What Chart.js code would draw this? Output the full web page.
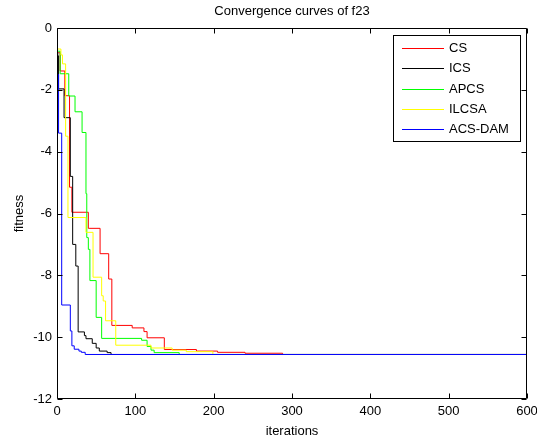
<!DOCTYPE html>
<html><head><meta charset="utf-8">
<script src="https://cdn.jsdelivr.net/npm/chart.js@4/dist/chart.umd.min.js"></script>
<style>html,body{margin:0;padding:0;background:#fff;}#wrap{width:537px;height:441px;}</style>
</head><body><div id="wrap"><canvas id="c" width="537" height="441"></canvas></div>
<script>
const titleText = 'Convergence curves of f23';
const xLabel = 'iterations';
const yLabel = 'fitness';
const xTicks = [0, 100, 200, 300, 400, 500, 600];
const yTicks = [0, -2, -4, -6, -8, -10, -12];
const seriesNames = ['CS', 'ICS', 'APCS', 'ILCSA', 'ACS-DAM'];
const seriesColors = ['#ff0000', '#000000', '#00ff00', '#ffff00', '#0000ff'];

// step breakpoints: iteration where a new best fitness starts, and that fitness
const csIter = [0, 4, 10, 16, 19, 40, 55, 66, 70, 96, 111, 115, 137, 178, 205, 240, 288, 600];
const csFit  = [-0.8, -1.39, -2.19, -5.15, -5.96, -6.48, -7.3, -8.12, -9.62, -9.7, -9.82, -10.02, -10.4, -10.45, -10.49, -10.52, -10.56, -10.56];

const icsIter = [0, 1, 2, 9, 17, 20, 24, 27, 35, 37, 45, 50, 54, 64, 69, 600];
const icsFit  = [-0.8, -0.9, -1.97, -2.9, -4.8, -7.0, -7.7, -9.83, -9.95, -10.05, -10.2, -10.35, -10.45, -10.5, -10.56, -10.56];

const apcsIter = [0, 4, 15, 23, 32, 37, 38, 40, 42, 50, 57, 108, 115, 120, 124, 156, 600];
const apcsFit  = [-0.75, -1.48, -2.2, -2.71, -3.38, -5.36, -6.78, -7.16, -8.17, -9.36, -10.04, -10.1, -10.3, -10.42, -10.5, -10.56, -10.56];

const ilcsaIter = [0, 5, 7, 11, 14, 37, 46, 57, 59, 62, 75, 120, 147, 165, 199, 600];
const ilcsaFit  = [-0.68, -0.87, -1.16, -3.5, -6.13, -6.61, -8.06, -8.66, -8.83, -9.47, -10.26, -10.35, -10.42, -10.47, -10.56, -10.56];

const acsIter = [0, 2, 6, 17, 19, 22, 28, 31, 36, 600];
const acsFit  = [-1.5, -3.4, -8.96, -9.8, -10.28, -10.39, -10.45, -10.49, -10.56, -10.56];

const iterSets = [csIter, icsIter, apcsIter, ilcsaIter, acsIter];
const fitSets = [csFit, icsFit, apcsFit, ilcsaFit, acsFit];

const FONT = "'Liberation Sans', Arial, Helvetica, sans-serif";
Chart.defaults.font.family = FONT;
Chart.defaults.font.size = 13;
Chart.defaults.color = '#000';

const datasets = seriesNames.map((name, i) => ({
  label: name,
  data: iterSets[i].map((it, k) => ({x: it, y: fitSets[i][k]})),
  borderColor: seriesColors[i],
  backgroundColor: seriesColors[i],
  borderWidth: 1,
  pointRadius: 0,
  stepped: 'before',
  fill: false,
  order: seriesNames.length - i
}));

const framePlugin = {
  id: 'frame',
  afterDatasetsDraw(chart) {
    const {ctx, chartArea: a, scales: {x, y}} = chart;
    const L = Math.round(a.left) + 0.5, R = Math.round(a.right) - 0.5;
    const T = Math.round(a.top) + 0.5, B = Math.round(a.bottom) - 0.5;
    ctx.save();
    ctx.strokeStyle = '#000';
    ctx.lineWidth = 1;
    ctx.beginPath();
    ctx.rect(L, T, R - L, B - T);
    const tl = 5;
    xTicks.forEach(v => {
      const px = Math.round(x.getPixelForValue(v)) + 0.5;
      ctx.moveTo(px, B); ctx.lineTo(px, B - tl);
      ctx.moveTo(px, T); ctx.lineTo(px, T + tl);
    });
    yTicks.forEach(v => {
      const py = Math.round(y.getPixelForValue(v)) + 0.5;
      ctx.moveTo(L, py); ctx.lineTo(L + tl, py);
      ctx.moveTo(R, py); ctx.lineTo(R - tl, py);
    });
    ctx.stroke();
    ctx.restore();

    // legend box
    ctx.save();
    const bx = 393, by = 35, bw = 128, bh = 107;
    ctx.fillStyle = '#fff';
    ctx.fillRect(bx, by, bw, bh);
    ctx.fillStyle = '#000';
    ctx.fillRect(bx, by, bw, 1);
    ctx.fillRect(bx, by + bh - 1, bw, 1);
    ctx.fillRect(bx, by, 1, bh);
    ctx.fillRect(bx + bw - 1, by, 1, bh);
    ctx.font = '13px ' + FONT;
    ctx.textBaseline = 'middle';
    ctx.textAlign = 'left';
    seriesNames.forEach((name, i) => {
      const ly = Math.round(by + 13 + i * 20.3);
      ctx.fillStyle = seriesColors[i];
      ctx.fillRect(402, ly, 42, 1);
      ctx.fillStyle = '#000';
      ctx.fillText(name, 449, ly + 0.5);
    });
    ctx.restore();
  }
};

new Chart(document.getElementById('c'), {
  type: 'line',
  data: {datasets},
  options: {
    responsive: false,
    devicePixelRatio: 1,
    animation: false,
    layout: {padding: {top: 0, right: 0, left: 0, bottom: 0}},
    plugins: {
      legend: {display: false},
      tooltip: {enabled: false},
      title: {
        display: true, text: titleText, fullSize: false,
        font: {size: 13, weight: 'normal'}, color: '#000',
        padding: {top: 4, bottom: 8.4}
      }
    },
    scales: {
      x: {
        type: 'linear', min: 0, max: 600,
        afterBuildTicks: s => { s.ticks = xTicks.map(v => ({value: v})); },
        ticks: {padding: 5, color: '#000', font: {size: 13}, maxRotation: 0, autoSkip: false},
        grid: {display: false, drawTicks: false},
        border: {display: false},
        title: {display: true, text: xLabel, font: {size: 13}, color: '#000', padding: {top: 0, bottom: 2}},
        afterFit: s => { s.height = 42; s.paddingRight = 10; s.paddingLeft = 0; }
      },
      y: {
        type: 'linear', min: -12, max: 0,
        afterBuildTicks: s => { s.ticks = yTicks.map(v => ({value: v})); },
        ticks: {padding: 5, color: '#000', font: {size: 13}, autoSkip: false},
        grid: {display: false, drawTicks: false},
        border: {display: false},
        title: {display: true, text: yLabel, font: {size: 13}, color: '#000', padding: {top: 12, bottom: 0}},
        afterFit: s => { s.width = 57; }
      }
    }
  },
  plugins: [framePlugin]
});
</script>
</body></html>
